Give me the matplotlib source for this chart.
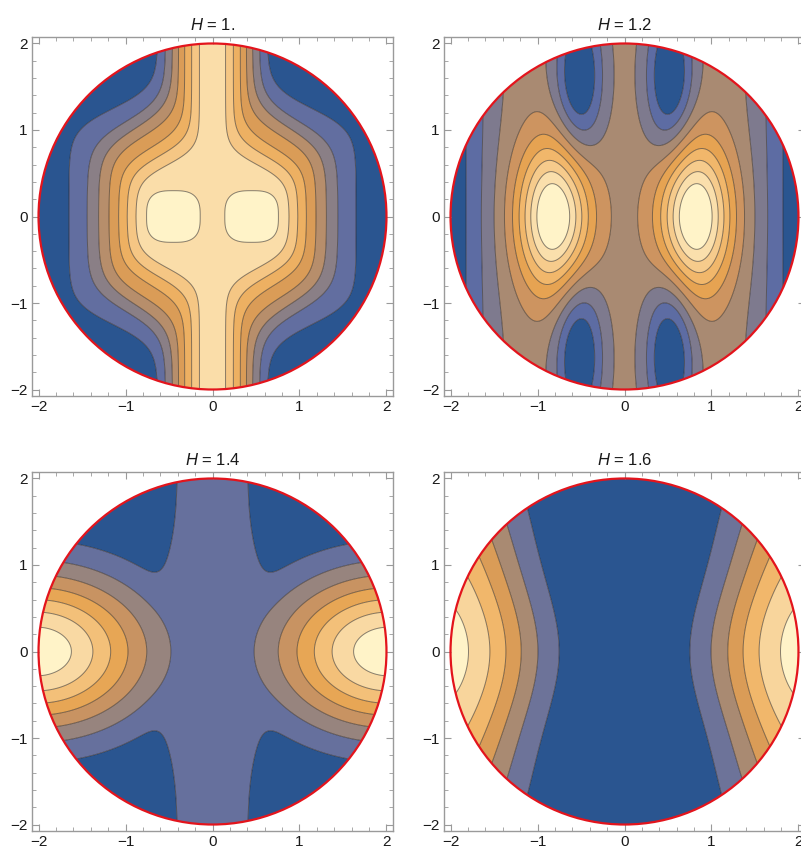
import numpy as np
import matplotlib
matplotlib.use("Agg")
import matplotlib.pyplot as plt
from matplotlib.colors import LinearSegmentedColormap
from matplotlib.patches import Circle
from matplotlib.ticker import MultipleLocator

plt.rcParams['font.family'] = ['Liberation Sans', 'DejaVu Sans']
plt.rcParams['mathtext.fontset'] = 'custom'
plt.rcParams['mathtext.it'] = 'Liberation Sans:italic'
plt.rcParams['mathtext.rm'] = 'Liberation Sans'

# ---------------------------------------------------------------- data
h_values = [1.0, 1.2, 1.4, 1.6]
h_labels = ["1.", "1.2", "1.4", "1.6"]
disk_radius = 2.0
tick_values = [-2, -1, 0, 1, 2]

# density gradient (position, colour)
gradient_pos = [0.0, 0.11, 0.22, 0.33, 0.44, 0.55, 0.67, 0.78, 0.89, 1.0]
gradient_rgb = ["#2a5590", "#5d6ca3", "#7e7a8e", "#a88a73", "#cc9460",
                "#e5a250", "#f1b86c", "#f6cb8c", "#fadfac", "#fff3c8"]

# H = 1: contour table of the central ridge (one column per level line)
h1_level = [7.6, 7.6, 7.0, 6.0, 5.0, 4.0, 3.0, 2.0, 1.0, 0.0, 0.0]
h1_x_waist = [0.0, 0.78, 0.87, 0.98, 1.08, 1.19, 1.31, 1.44, 1.65, 2.0, 3.0]
h1_x_far = [0.0, 0.10, 0.15, 0.24, 0.32, 0.39, 0.46, 0.54, 0.63, 0.9, 3.0]
h1_y_bend = [0.5, 0.55, 0.6, 0.7, 0.8, 0.93, 1.02, 1.1, 1.25, 1.3, 1.3]
h1_bend_width = [0.1, 0.1, 0.1, 0.11, 0.12, 0.13, 0.14, 0.14, 0.13, 0.13, 0.13]
h1_bumps = [(0.45, 0.0, 0.9, 0.33, 0.32, 3, 3)]     # (cx, cy, amp, wx, wy, px, py)
h1_levels = [1, 2, 3, 4, 5, 6, 7, 8]

# H = 1.2
h12_base = 3.5
h12_bumps = [(0.81, 0.0, 7.0, 0.41, 0.84, 2, 2),
             (0.52, 1.6, -3.8, 0.28, 0.90, 2, 2)]
h12_edge = (3.1, 2.05, 0.5)                          # (depth, position, width)
h12_levels = [1, 2, 3, 4, 5, 6, 7, 8, 9]

# H = 1.4
h14_bumps = [(2.02, 0.0, 1.0, 1.3, 0.92, 2, 2)]
h14_channel = (0.2, 0.53, 0.75, 0.15)                # (height, half-width, y onset, softness)
h14_levels = [0.143, 0.271, 0.399, 0.527, 0.655, 0.783, 0.911]

# H = 1.6: side maxima whose centre drifts outward away from y = 0
h16_ridge = (2.02, 0.2, 0.9, 1.0, 2.6)               # (centre, drift, drift scale, wx, wy)
h16_levels = [0.20, 0.35, 0.50, 0.65, 0.80, 0.95]

# ---------------------------------------------------------------- fields
n = 601
g = np.linspace(-2.08, 2.08, n)
X, Y = np.meshgrid(g, g)


def bump_sum(bumps):
    total = np.zeros_like(X)
    for cx, cy, amp, wx, wy, px, py in bumps:
        for sx in {cx, -cx}:
            for sy in {cy, -cy}:
                total += amp * np.exp(-(np.abs(X - sx) / wx) ** px
                                      - (np.abs(Y - sy) / wy) ** py)
    return total


def field_h1():
    ax_ = np.abs(X)
    out = np.empty_like(X)
    lev = np.array(h1_level)
    xw = np.array(h1_x_waist)
    xf = np.array(h1_x_far)
    yb = np.array(h1_y_bend)
    tw = np.array(h1_bend_width)
    for i, yv in enumerate(g):
        w = 1.0 / (1.0 + np.exp((abs(yv) - yb) / tw))
        pos = xf + (xw - xf) * w
        out[i] = np.interp(ax_[i], pos, lev)
    return out + bump_sum(h1_bumps)


def field_h12():
    depth, pos, width = h12_edge
    edge = depth * np.exp(-((pos - np.abs(X)) / width) ** 2)
    return h12_base + bump_sum(h12_bumps) - edge


def field_h14():
    height, half_w, y_on, soft = h14_channel
    channel = height * np.exp(-(np.abs(X) / half_w) ** 4) \
        / (1.0 + np.exp(-(np.abs(Y) - y_on) / soft))
    return bump_sum(h14_bumps) + channel


def field_h16():
    c0, drift, ys, wx, wy = h16_ridge
    centre = c0 + drift * (1.0 - np.exp(-(Y / ys) ** 2))
    return np.exp(-((np.abs(X) - centre) / wx) ** 2 - (Y / wy) ** 2)


panels = [(field_h1(), h1_levels), (field_h12(), h12_levels),
          (field_h14(), h14_levels), (field_h16(), h16_levels)]

cmap = LinearSegmentedColormap.from_list("density", list(zip(gradient_pos, gradient_rgb)))

# ---------------------------------------------------------------- figure
W, H = 801, 852
fig = plt.figure(figsize=(W / 100, H / 100), dpi=100)
frames = [(32, 37), (444, 37), (32, 472), (444, 472)]
fw, fh = 361, 359

inside = X ** 2 + Y ** 2 <= (disk_radius + 0.03) ** 2

for (left, top), (Z, levels), hl in zip(frames, panels, h_labels):
    ax = fig.add_axes([left / W, 1 - (top + fh) / H, fw / W, fh / H])
    Zm = np.ma.masked_where(~inside, Z)
    nb = len(levels) + 1
    colors = [cmap(k / (nb - 1)) for k in range(nb)]
    bounds = [Z.min() - 1] + list(levels) + [Z.max() + 1]
    cf = ax.contourf(X, Y, Zm, levels=bounds, colors=colors, antialiased=True)
    cl = ax.contour(X, Y, Zm, levels=levels, colors=[(0.15, 0.12, 0.1, 0.55)],
                    linewidths=0.7)
    clip = Circle((0, 0), disk_radius, transform=ax.transData)
    cf.set_clip_path(clip)
    cl.set_clip_path(clip)
    ax.add_patch(Circle((0, 0), disk_radius, fill=False, ec="#e3141c", lw=1.6, zorder=5))

    ax.set_xlim(-2.075, 2.075)
    ax.set_ylim(-2.075, 2.075)
    ax.set_xticks(tick_values)
    ax.set_yticks(tick_values)
    ax.set_xticklabels([str(t).replace("-", "\u2212") for t in tick_values])
    ax.set_yticklabels([str(t).replace("-", "\u2212") for t in tick_values])
    ax.xaxis.set_minor_locator(MultipleLocator(0.2))
    ax.yaxis.set_minor_locator(MultipleLocator(0.2))
    ax.tick_params(which="both", direction="in", top=True, right=True,
                   color="#9a9a9a", labelsize=11, labelcolor="#1a1a1a", pad=3)
    ax.tick_params(which="major", length=5, width=0.8)
    ax.tick_params(which="minor", length=2.8, width=0.6)
    for sp in ax.spines.values():
        sp.set_color("#9a9a9a")
        sp.set_linewidth(1.0)
    ax.set_title(r"$H$ = " + hl, fontsize=12, pad=5, color="#1a1a1a")

fig.savefig("out.png", dpi=100)
